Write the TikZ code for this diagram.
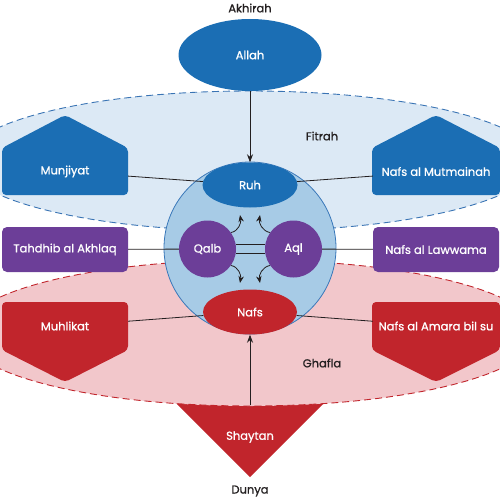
\documentclass[tikz,border=0pt]{standalone}
\usepackage{fontspec}
\setmainfont{Poppins}[FakeBold=1]
\usetikzlibrary{arrows.meta,shapes.geometric}
\definecolor{sky}{RGB}{27,110,180}
\definecolor{plum}{RGB}{108,62,152}
\definecolor{blood}{RGB}{193,37,44}
\definecolor{fitrahfill}{RGB}{220,233,245}
\definecolor{fitrahline}{RGB}{58,116,180}
\definecolor{ghaflafill}{RGB}{242,199,203}
\definecolor{heartfill}{RGB}{167,203,230}
\definecolor{heartline}{RGB}{58,120,185}
\definecolor{ink}{RGB}{35,31,32}
\begin{document}
\begin{tikzpicture}[x=1pt,y=-1pt,font=\fontsize{11.5}{13}\selectfont,
  spirit/.style={fill=sky,text=white},
  mind/.style={fill=plum,text=white},
  base/.style={fill=blood,text=white},
  tag/.style={text=ink},
  link/.style={draw=ink,line width=0.8pt},
  pull/.style={draw=ink,line width=0.8pt,-{Stealth[length=8pt,width=6pt]}},
  hook/.style={draw=ink,line width=0.8pt,-{Stealth[length=7pt,width=5.5pt]}},
  realm/.style={line width=0.9pt,dash pattern=on 7pt off 4pt},
  label/.style={inner sep=0pt,minimum width=126pt,minimum height=47pt}]

\clip (0,0) rectangle (500,500);

% the two realms and Shaytan below them
\fill[blood] (168,395) -- (332,395) -- (250,477) -- cycle;
\draw[realm,fill=fitrahfill,draw=fitrahline] (250,161) ellipse [x radius=286,y radius=70];
\draw[realm,fill=ghaflafill,draw=blood] (250,333) ellipse [x radius=287,y radius=73];

\node[circle,minimum size=172pt,fill=heartfill,draw=heartline,line width=0.8pt] (heart) at (250,248) {};

\fill[spirit,rounded corners=4pt] (2,195) -- (2,148) -- (65,115) -- (128,148) -- (128,195) -- cycle;
\fill[spirit,rounded corners=4pt] (372,195) -- (372,148) -- (436,115) -- (500,148) -- (500,195) -- cycle;
\fill[base,rounded corners=4pt] (2,302) -- (128,302) -- (128,350) -- (65,382) -- (2,350) -- cycle;
\fill[base,rounded corners=4pt] (372,302) -- (500,302) -- (500,350) -- (436,382) -- (372,350) -- cycle;

\node [tag] (akhirah) at (250,8) {Akhirah};
\node [tag] (dunya) at (250,491) {Dunya};
\node [tag] (fitrah) at (322,136) {Fitrah};
\node [tag] (ghafla) at (322,363) {Ghafla};

\node [ellipse,spirit,minimum width=143pt,minimum height=72pt,inner sep=0pt] (allah) at (250,55) {Allah};
\node [ellipse,spirit,minimum width=95pt,minimum height=45pt,inner sep=0pt] (ruh) at (250,185) {Ruh};
\node [ellipse,base,minimum width=94pt,minimum height=45pt,inner sep=0pt] (nafs) at (250,312) {Nafs};
\node [circle,mind,minimum size=57pt,inner sep=0pt] (qalb) at (207.5,249) {Qalb};
\node [circle,mind,minimum size=57pt,inner sep=0pt] (aql) at (293.5,249) {Aql};

\node [label,text=white] (munjiyat) at (65,171.5) {Munjiyat};
\node [label,text=white] (mutmainah) at (436,171.5) {Nafs al Mutmainah};
\node [label,mind,rounded corners=5pt,minimum height=45pt] (tahdhib) at (65,249.5) {Tahdhib al Akhlaq};
\node [label,mind,rounded corners=5pt,minimum height=45pt] (lawwama) at (436,249.5) {Nafs al Lawwama};
\node [label,text=white] (muhlikat) at (65,326) {Muhlikat};
\node [label,text=white] (amara) at (436,326) {Nafs al Amara bil su};

\node [tag] (shaytan) at (250,437) {\textcolor{white}{Shaytan}};
\coordinate (gate) at (250,405);
\coordinate (upl) at (240,215);
\coordinate (upr) at (260,215);
\coordinate (downl) at (240,283);
\coordinate (downr) at (260,283);

\draw [link] (munjiyat) -- (ruh);
\draw [link] (ruh) -- (mutmainah);
\draw [link] (tahdhib) -- (qalb);
\draw [link] (aql) -- (lawwama);
\draw [link] (muhlikat) -- (nafs);
\draw [link] (nafs) -- (amara);
\draw [link] ([yshift=-4.7pt]qalb.east) -- ([yshift=-4.7pt]aql.west);
\draw [link] ([yshift=4.7pt]qalb.east) -- ([yshift=4.7pt]aql.west);

\draw [pull] (allah) -- (ruh);
\draw [pull] (gate) -- (nafs);

\draw [hook] (qalb.35) to [out=10,in=-80] (upl);
\draw [hook] (aql.145) to [out=170,in=-100] (upr);
\draw [hook] (qalb.-35) to [out=-10,in=80] (downl);
\draw [hook] (aql.-145) to [out=-170,in=100] (downr);

\end{tikzpicture}
\end{document}
